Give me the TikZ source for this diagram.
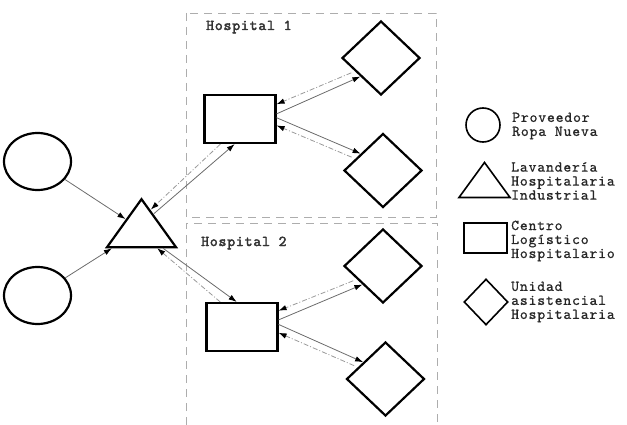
\documentclass[tikz,border=0pt]{standalone}
\usepackage{fontspec}
\newfontfamily\cour[LetterSpace=5.5,FakeBold=0.8]{lmmono10-regular.otf}
\newfontfamily\courbold[LetterSpace=5.5,FakeBold=2.5]{lmmono10-regular.otf}
\usetikzlibrary{shapes.geometric,arrows.meta,calc}
\definecolor{boxgray}{gray}{0.68}
\definecolor{solidgray}{gray}{0.42}
\definecolor{dashgray}{gray}{0.6}
\begin{document}
\begin{tikzpicture}[x=1pt,y=-1pt,
  shapeline/.style={draw=black,line width=2.2pt,inner sep=0pt},
  legline/.style={draw=black,line width=1.6pt,inner sep=0pt},
  prov/.style={shapeline,ellipse,minimum width=67pt,minimum height=57pt},
  lav/.style={shapeline,isosceles triangle,shape border rotate=90,isosceles triangle stretches,minimum width=69pt,minimum height=48pt},
  clh/.style={shapeline,rectangle,minimum width=71pt,minimum height=48pt},
  uah/.style={shapeline,diamond,minimum width=78pt,minimum height=74pt},
  groupbox/.style={draw=boxgray,line width=0.9pt,dash pattern=on 8pt off 6pt},
  flow/.style={draw=solidgray,line width=0.8pt,-{Latex[length=8pt,width=5.5pt,color=black]}},
  back/.style={draw=dashgray,line width=0.8pt,dash pattern=on 5pt off 2pt on 1pt off 2pt,-{Latex[length=8pt,width=5.5pt,color=black]}},
  txt/.style={font=\cour\fontsize{15}{14}\selectfont,text=black!85,inner sep=0pt,align=left,anchor=west},
  htxt/.style={font=\courbold\fontsize{15}{14}\selectfont,text=black!80,inner sep=0pt,anchor=west}]
\useasboundingbox (0,0) rectangle (627,425);
% group boxes
\draw[groupbox] (186,13) rectangle (436,217);
\draw[groupbox] (186,425) -- (186,223) -- (437,223) -- (437,425);
\node[htxt] (h1) at (206,27) {Hospital 1};
\node[htxt] (h2) at (201,243) {Hospital 2};
% main nodes
\node[prov] (p1) at (37.5,161.5) {};
\node[prov] (p2) at (37.5,295.5) {};
\node[lav] (lv) at (141.5,229.5) {};
\node[clh] (r1) at (240,119) {};
\node[clh] (r2) at (242,327) {};
\node[uah] (d1) at (381,58) {};
\node[uah] (d2) at (383,170.5) {};
\node[uah] (d3) at (383,266) {};
\node[uah] (d4) at (385.5,379) {};
% connectors
\draw[flow] (p1) -- (lv);
\draw[flow] (p2) -- (lv);
\draw[flow] (lv.52) -- (r1.258);
\draw[back] (r1.232) -- (lv.65);
\draw[flow] (lv.-41) -- (r2.102);
\draw[back] (r2.131) -- (lv.-50);
\draw[flow] (r1.8) -- (d1.222);
\draw[back,shorten <=4pt] (d1.207) -- (r1.22);
\draw[flow] (r1.2) -- (d2.143);
\draw[back,shorten <=4pt] (d2.157) -- (r1.-10);
\draw[flow] (r2.11) -- (d3.222);
\draw[back,shorten <=4pt] (d3.207) -- (r2.24);
\draw[flow] (r2.4) -- (d4.143);
\draw[back,shorten <=4pt] (d4.157) -- (r2.-9);
% legend
\node[legline,circle,minimum size=34pt] (lc) at (483,125) {};
\node[legline,isosceles triangle,shape border rotate=90,isosceles triangle stretches,minimum width=51pt,minimum height=35pt] (lt) at (484.5,184.5) {};
\node[legline,rectangle,minimum width=43pt,minimum height=30pt] (lr) at (485.5,238) {};
\node[legline,diamond,minimum width=44pt,minimum height=46pt] (ld) at (486,302) {};
\node[txt] (tc) at (512,126) {Proveedor\\Ropa Nueva};
\node[txt] (tt) at (511,181) {Lavandería\\Hospitalaria\\Industrial};
\node[txt] (tr) at (511,241) {Centro\\Logístico\\Hospitalario};
\node[txt] (td) at (511,302) {Unidad\\asistencial\\Hospitalaria};
\end{tikzpicture}
\end{document}
